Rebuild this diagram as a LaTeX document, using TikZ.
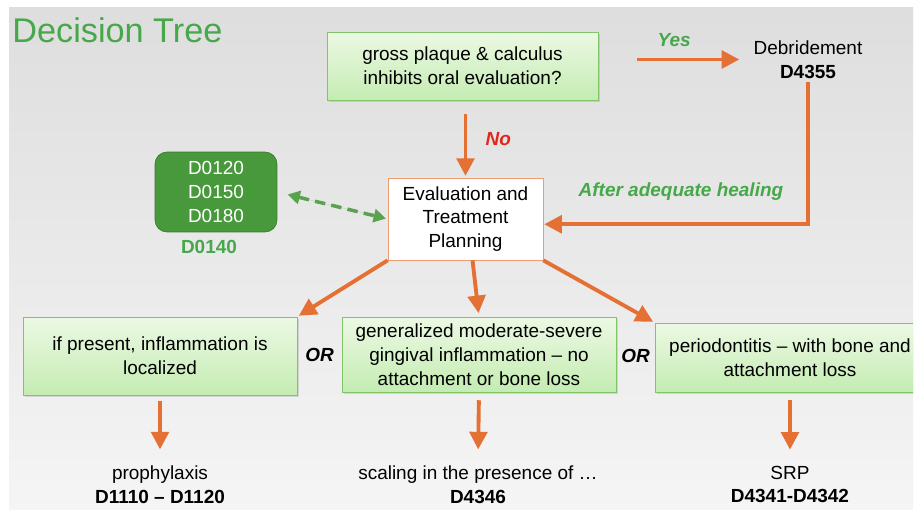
\documentclass[tikz,border=0pt]{standalone}
\usepackage{fontspec}
\setmainfont{Liberation Sans}
\usetikzlibrary{arrows.meta,positioning,calc,shadows}

\definecolor{arrorange}{RGB}{229,112,52}
\definecolor{titlegreen}{RGB}{70,168,74}
\definecolor{boxtop}{RGB}{236,249,228}
\definecolor{boxbottom}{RGB}{196,236,178}
\definecolor{boxline}{RGB}{130,196,104}
\definecolor{codegreen}{RGB}{72,152,60}
\definecolor{noired}{RGB}{222,40,30}

\begin{document}
\begin{tikzpicture}[x=0.02cm,y=-0.02cm,>={Triangle[length=10pt,width=10pt]},font=\fontsize{10.8}{13.6}\selectfont]
  \tikzstyle{choice}=[draw=boxline,top color=boxtop,bottom color=boxbottom,align=center,
    drop shadow={opacity=0.25,shadow xshift=1pt,shadow yshift=-1pt}]
  \tikzstyle{arr}=[->,draw=arrorange,line width=2.2pt]
  \tikzstyle{lab}=[font=\fontsize{10.8}{13.6}\selectfont\bfseries\itshape]
  \tikzstyle{result}=[align=center,inner sep=2pt]

  % background
  \useasboundingbox (0,0) rectangle (914,510);
  \fill[white] (0,0) rectangle (914,510);
  \shade[top color=black!13,bottom color=black!4] (9,8) rectangle (913,510);
  \begin{scope}
    \clip (9,8) rectangle (913,510);

  \node[anchor=west,text=titlegreen,font=\fontsize{19.5}{22}\selectfont,inner sep=0pt] (title) at (12,30) {Decision Tree};

  \node[choice,minimum width=5.42cm,minimum height=1.36cm] (q) at (462.5,66)
    {gross plaque \& calculus\\inhibits oral evaluation?};
  \node[result] (deb) at (808,59.5) {Debridement\\\textbf{D4355}};
  \node[draw=arrorange!70,fill=white,align=center,minimum width=3.1cm,minimum height=1.64cm] (e)
    at (465.5,219) {Evaluation and\\Treatment\\Planning};
  \node[draw=codegreen!80!black,fill=codegreen,text=white,rounded corners=0.24cm,align=center,
    minimum width=2.44cm,minimum height=1.6cm] (codes) at (216,192) {D0120\\D0150\\D0180};
  \node[text=titlegreen,font=\fontsize{10.8}{13.6}\selectfont\bfseries,below=1pt of codes,xshift=-4pt] (d0140) {D0140};

  \node[choice,minimum width=5.48cm,minimum height=1.56cm] (b1) at (160,356)
    {if present, inflammation is\\localized};
  \node[choice,minimum width=5.48cm,minimum height=1.5cm] (b2) at (479,354.5)
    {generalized moderate-severe\\gingival inflammation -- no\\attachment or bone loss};
  \node[choice,minimum width=5.4cm,minimum height=1.38cm] (b3) at (790,357.5)
    {periodontitis -- with bone and\\attachment loss};
  \node[lab] (or1) at ($(b1.east)!0.5!(b2.west)$) {OR};
  \node[lab] (or2) at ($(b2.east)!0.5!(b3.west)$) {OR};

  \node[result] (r1) at (160,484.5) {prophylaxis\\\textbf{D1110 -- D1120}};
  \node[result] (r2) at (478,484.5) {scaling in the presence of \dots\\\textbf{D4346}};
  \node[result] (r3) at (790,484.5) {SRP\\\textbf{D4341-D4342}};

  \draw[arr,shorten <=22pt,shorten >=6pt] (q.east |- deb.west) -- node[lab,above=3pt,text=titlegreen] {Yes} (deb.west);
  \draw[arr,shorten <=8pt,shorten >=1pt] (q.south -| e.north) -- node[lab,right=7pt,text=noired] {No} (e.north);
  \draw[arr,shorten >=0.5pt] (deb.south) |- node[lab,pos=0.74,above=9pt,text=titlegreen] {After adequate healing} ([yshift=-3pt]e.east);
  \draw[{Triangle[length=7pt,width=7.5pt]}-{Triangle[length=7pt,width=7.5pt]},draw=codegreen!90,fill=codegreen!90,
    line width=2pt,dash pattern=on 6pt off 3.5pt,shorten <=6pt,shorten >=1pt] (codes.east) -- (e.west);

  \draw[arr,shorten >=1pt] (e.south west) -- (b1.north east);
  \draw[arr,shorten >=2pt] ([xshift=4pt]e.south) -- (b2.north);
  \draw[arr,shorten >=1pt] (e.south east) -- (b3.north west);

  \draw[arr,shorten <=3pt,shorten >=7pt] (b1.south) -- (r1.north);
  \draw[arr,shorten <=4.5pt,shorten >=7pt] (b2.south) -- (r2.north);
  \draw[arr,shorten <=4.5pt,shorten >=7pt] (b3.south) -- (r3.north);
  \end{scope}
\end{tikzpicture}
\end{document}
